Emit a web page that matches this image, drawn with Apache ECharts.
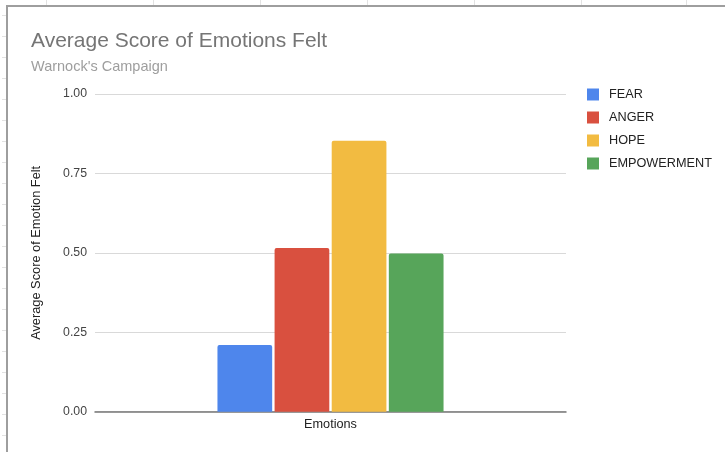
<!DOCTYPE html>
<html>
<head>
<meta charset="utf-8">
<style>
  html, body { margin: 0; padding: 0; background: #fff; }
  #chart { width: 725px; height: 452px; }
</style>
<script src="https://cdn.jsdelivr.net/npm/echarts@6/dist/echarts.min.js"></script>
</head>
<body>
<div id="chart"></div>
<script>
// Average emotion scores for the campaign, one bar per emotion
const categories = ['Emotions'];
const seriesNames = ['FEAR', 'ANGER', 'HOPE', 'EMPOWERMENT'];
const fearValues = [0.21];
const angerValues = [0.515];
const hopeValues = [0.853];
const empowermentValues = [0.498];
const yTicks = [0, 0.25, 0.5, 0.75, 1];

const seriesValues = [fearValues, angerValues, hopeValues, empowermentValues];
const colors = ['#4e86ec', '#d9503f', '#f2bb41', '#57a55a'];
const FONT = 'Liberation Sans, Arial, sans-serif';

// Spreadsheet cell lines peeking around the embedded chart frame
const sheetLines = [];
[46, 153, 260, 367, 474, 581, 686].forEach(function (x) {
  sheetLines.push({ type: 'line', shape: { x1: x + 0.5, y1: 0, x2: x + 0.5, y2: 5 }, style: { stroke: '#e2e2e2', lineWidth: 1 }, silent: true });
});
for (let y = 15; y < 452; y += 21) {
  sheetLines.push({ type: 'line', shape: { x1: 2, y1: y + 0.5, x2: 6, y2: y + 0.5 }, style: { stroke: '#e2e2e2', lineWidth: 1 }, silent: true });
}

const chart = echarts.init(document.getElementById('chart'), null, { renderer: 'canvas' });

chart.setOption({
  backgroundColor: '#ffffff',
  animation: false,
  graphic: sheetLines.concat([
    {
      type: 'rect',
      shape: { x: 7, y: 6, width: 740, height: 470 },
      style: { fill: 'transparent', stroke: '#9e9e9e', lineWidth: 2 },
      silent: true,
      z: -1
    }
  ]),
  title: {
    text: 'Average Score of Emotions Felt',
    subtext: "Warnock's Campaign",
    left: 26,
    top: 26,
    itemGap: 7,
    textStyle: { fontFamily: FONT, fontSize: 21, fontWeight: 'normal', color: '#757575' },
    subtextStyle: { fontFamily: FONT, fontSize: 14.5, color: '#9e9e9e' }
  },
  legend: {
    orient: 'vertical',
    left: 587,
    top: 88,
    padding: 0,
    itemWidth: 12,
    itemHeight: 12,
    itemGap: 10,
    icon: 'rect',
    data: seriesNames,
    textStyle: { fontFamily: FONT, fontSize: 12.7, color: '#222222', padding: [0, 0, 0, 5] }
  },
  grid: { left: 95, right: 159, top: 94, bottom: 40.3, containLabel: false },
  xAxis: {
    type: 'category',
    data: categories,
    name: 'Emotions',
    nameLocation: 'middle',
    nameGap: 6,
    nameTextStyle: { fontFamily: FONT, fontSize: 12.7, color: '#222222', verticalAlign: 'top' },
    axisLine: { lineStyle: { color: '#777777', width: 1.5 } },
    axisTick: { show: false },
    axisLabel: { show: false }
  },
  yAxis: {
    type: 'value',
    min: yTicks[0],
    max: yTicks[yTicks.length - 1],
    interval: 0.25,
    name: 'Average Score of Emotion Felt',
    nameLocation: 'middle',
    nameGap: 52,
    nameTextStyle: { fontFamily: FONT, fontSize: 12.8, color: '#222222' },
    axisLine: { show: false },
    axisTick: { show: false },
    axisLabel: {
      margin: 8,
      fontFamily: FONT,
      fontSize: 12.3,
      color: '#444444',
      formatter: function (v) { return v.toFixed(2); }
    },
    splitLine: { lineStyle: { color: '#d9d9d9', width: 1 } }
  },
  series: seriesNames.map(function (name, i) {
    return {
      name: name,
      type: 'bar',
      data: seriesValues[i],
      barCategoryGap: '52%',
      barGap: '4.4%',
      itemStyle: { color: colors[i], borderRadius: [2, 2, 0, 0] }
    };
  })
});
</script>
</body>
</html>
